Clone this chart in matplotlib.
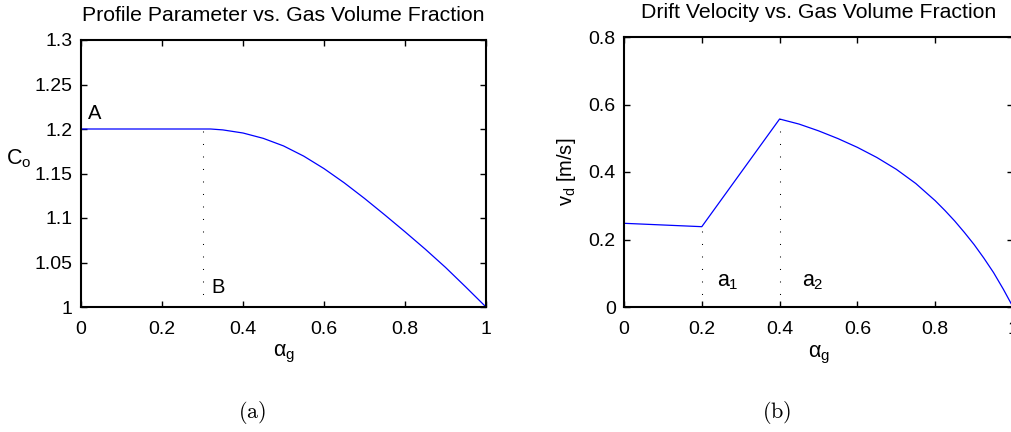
import matplotlib
matplotlib.use("Agg")
import matplotlib.pyplot as plt

# Profile parameter C_o vs gas volume fraction
alpha_co = [0.0, 0.30, 0.32, 0.35, 0.40, 0.45, 0.50, 0.55, 0.60, 0.65,
            0.70, 0.75, 0.80, 0.85, 0.90, 0.95, 1.0]
co = [1.2000, 1.2000, 1.2000, 1.1990, 1.1955, 1.1895, 1.1810, 1.1695, 1.1555,
      1.1395, 1.1220, 1.1035, 1.0845, 1.0650, 1.0445, 1.0225, 1.0000]

# Drift velocity v_d vs gas volume fraction
alpha_vd = [0.0, 0.20, 0.40, 0.45, 0.50, 0.55, 0.60, 0.65, 0.70, 0.75,
            0.80, 0.825, 0.85, 0.875, 0.90, 0.925, 0.95, 0.975, 1.0]
vd = [0.248, 0.238, 0.557, 0.542, 0.522, 0.499, 0.473, 0.443, 0.408, 0.366,
      0.315, 0.286, 0.255, 0.221, 0.185, 0.145, 0.102, 0.053, 0.0]

co_marks = [0.3]          # point B
vd_marks = [0.2, 0.4]     # points a1, a2

co_xticks = [0, 0.2, 0.4, 0.6, 0.8, 1]
co_yticks = [1, 1.05, 1.1, 1.15, 1.2, 1.25, 1.3]
vd_xticks = [0, 0.2, 0.4, 0.6, 0.8, 1]
vd_yticks = [0, 0.2, 0.4, 0.6, 0.8]

plt.rcParams["font.family"] = ["Liberation Sans", "DejaVu Sans"]
plt.rcParams["mathtext.fontset"] = "custom"
plt.rcParams["mathtext.rm"] = "Liberation Sans"
plt.rcParams["mathtext.it"] = "Liberation Sans"
plt.rcParams["mathtext.bf"] = "Liberation Sans:bold"
plt.rcParams["font.size"] = 14

W, H = 1011, 432
fig = plt.figure(figsize=(W / 100, H / 100), dpi=100)

ax1 = fig.add_axes([81 / W, 1 - 307 / H, 405 / W, 267 / H])
ax2 = fig.add_axes([624 / W, 1 - 307 / H, 389 / W, 270 / H])


def style(ax):
    for s in ax.spines.values():
        s.set_linewidth(1.5)
    ax.tick_params(direction="in", length=4, width=1, top=True, right=True)
    ax.tick_params(axis="x", pad=10)
    ax.tick_params(axis="y", pad=6)


# (a) profile parameter
ax1.plot(alpha_co, co, color="#0000ff", lw=0.9)
for m in co_marks:
    ax1.plot([m, m], [1.0, 1.2], color="black", lw=0.75, ls=(0, (1, 11)))
ax1.set_xlim(0, 1)
ax1.set_ylim(1, 1.3)
ax1.set_xticks(co_xticks)
ax1.set_xticklabels(["0", "0.2", "0.4", "0.6", "0.8", "1"])
ax1.set_yticks(co_yticks)
ax1.set_yticklabels(["1", "1.05", "1.1", "1.15", "1.2", "1.25", "1.3"])
style(ax1)
ax1.set_title("Profile Parameter vs. Gas Volume Fraction", pad=13.5,
              fontsize=15.3)
ax1.set_xlabel(r"$\alpha_g$", fontsize=15.5)
ax1.xaxis.set_label_coords(0.5, -0.135)
ax1.set_ylabel(r"$C_o$", rotation=0, va="center", ha="center", fontsize=15.5)
ax1.yaxis.set_label_coords(-0.153, 0.555)
ax1.text(0.017, 1.211, "A", fontsize=14.5)
ax1.text(0.323, 1.016, "B", fontsize=14.5)

# (b) drift velocity
ax2.plot(alpha_vd, vd, color="#0000ff", lw=0.9)
for m in vd_marks:
    ax2.plot([m, m], [0, vd[alpha_vd.index(m)]], color="black", lw=0.75,
             ls=(0, (1, 11)))
ax2.set_xlim(0, 1)
ax2.set_ylim(0, 0.8)
ax2.set_xticks(vd_xticks)
ax2.set_xticklabels(["0", "0.2", "0.4", "0.6", "0.8", "1"])
ax2.set_yticks(vd_yticks)
ax2.set_yticklabels(["0", "0.2", "0.4", "0.6", "0.8"])
style(ax2)
ax2.set_title("Drift Velocity vs. Gas Volume Fraction", pad=13.5,
              fontsize=15.3)
ax2.set_xlabel(r"$\alpha_g$", fontsize=15.5)
ax2.xaxis.set_label_coords(0.5, -0.135)
ax2.set_ylabel(r"$v_d$ [m/s]", fontsize=14.5)
ax2.yaxis.set_label_coords(-0.118, 0.5)
ax2.text(0.239, 0.062, r"$a_1$", fontsize=15.5)
ax2.text(0.458, 0.062, r"$a_2$", fontsize=15.5)

# subfigure captions
fig.text(252 / W, 1 - 413 / H, r"$\mathrm{(a)}$", math_fontfamily="cm",
         ha="center", va="center", fontsize=16)
fig.text(777 / W, 1 - 413 / H, r"$\mathrm{(b)}$", math_fontfamily="cm",
         ha="center", va="center", fontsize=16)

fig.savefig("out.png", dpi=100)
